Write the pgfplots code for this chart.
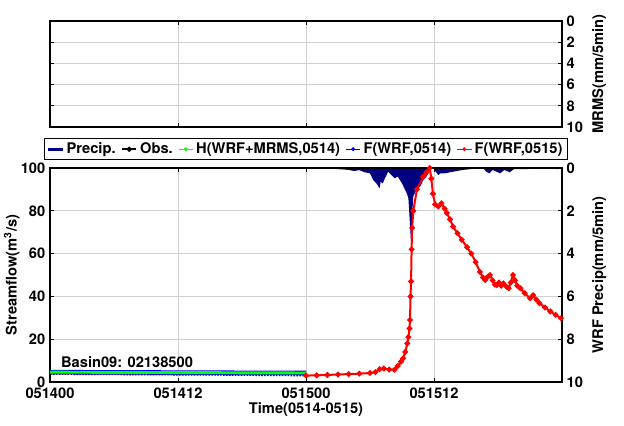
\documentclass[border=0pt]{standalone}
\usepackage{pgfplots}
\pgfplotsset{compat=1.18}
\usepackage{fontspec}
\setmainfont{TeX Gyre Heros}
\definecolor{navyp}{RGB}{0,0,128}
\pgfplotsset{
 mystyle/.style={
  scale only axis, width=384pt, xmin=0, xmax=48,
  tick align=inside, major tick length=3pt,
  every tick/.style={black, line width=0.6pt},
  axis line style={line width=0.8pt},
  tick label style={font=\fontsize{11}{13}\selectfont\bfseries},
  label style={font=\fontsize{11}{13}\selectfont\bfseries},
  /pgf/number format/assume math mode=true,
  grid style={black!18, line width=0.5pt},
 }
}
\pgfplotstableread{
h p
26.0 0
26.5 0.04
27.0 0.05
28.0 0.09
28.5 0.14
29.0 0.10
29.5 0.20
30.0 0.25
30.3 0.56
30.6 0.72
30.9 0.95
31.0 0.64
31.2 0.72
31.4 0.48
31.7 0.17
32.0 0.33
32.3 0.48
32.6 0.40
33.0 0.72
33.3 1.03
33.45 1.18
33.6 1.42
33.75 2.66
33.84 3.44
33.96 2.20
34.05 1.34
34.4 0.95
34.7 0.87
35.0 0.56
35.3 0.40
35.6 0.09
35.9 0
36.4 0.33
36.6 0.25
37.0 0.25
37.5 0.20
38.7 0.09
39.5 0.05
40.6 0.0
40.9 0.17
41.2 0.25
41.5 0.09
42.2 0.25
42.6 0.09
43.1 0.20
43.5 0.05
44.7 0.05
46.0 0.02
47.6 0.05
48.0 0
}\precip
\pgfplotstableread{
h v
24.0 3.0
25.0 3.1
26.0 3.3
27.0 3.5
28.0 3.7
29.0 3.9
30.0 4.2
30.5 4.6
30.9 6.0
31.3 6.3
31.8 5.8
32.3 5.7
32.6 7.5
32.9 9.5
33.1 11
33.3 14
33.5 18
33.6 21
33.7 25
33.75 29
33.8 40
33.85 47
33.9 62
33.95 72
34.06 80
34.4 90
35.0 96
35.3 98
35.6 100
35.75 95
35.9 88
36.1 83
36.4 82
36.7 83.5
37.0 81
37.2 79
37.5 76
37.8 72.6
38.2 69.5
38.6 66.5
39.1 63
39.5 60
39.9 56
40.3 51.5
40.6 48.8
40.8 47.7
41.0 49
41.25 50
41.5 47.5
41.7 45.5
41.9 45.3
42.1 46.5
42.3 45
42.5 46.1
42.8 44.5
43.0 43.8
43.2 46.5
43.4 50
43.6 47.5
43.8 45
44.1 43.8
44.5 41.5
45.0 39.1
45.3 40.6
45.6 38.5
45.9 36.8
46.4 34.8
46.9 33
47.4 31.4
47.9 29.8
}\fwrfb
\pgfplotstableread{
h v
0 4.60
1 4.58
2 4.57
3 4.55
4 4.54
5 4.52
6 4.50
7 4.49
8 4.47
9 4.45
10 4.44
11 4.42
12 4.40
13 4.39
14 4.37
15 4.35
16 4.34
17 4.32
18 4.30
19 4.29
20 4.27
21 4.25
22 4.24
23 4.22
24 4.20
}\hwrf
\pgfplotstableread{
h v
0 3.70
2 3.65
4 3.60
6 3.55
8 3.50
10 3.45
12 3.40
14 3.35
16 3.30
18 3.22
20 3.15
22 3.08
24 3.00
}\obs
\begin{document}
\begin{tikzpicture}
\path[use as bounding box] (0,0) rectangle (468pt,318.75pt);
% top MRMS axis
\begin{axis}[mystyle, height=79.5pt, at={(37.5pt,223.5pt)}, anchor=south west,
  ymin=0, ymax=10, y dir=reverse, ytick={0,2,...,10}, yticklabel pos=right,
  xtick={0,12,24,36,48}, xticklabels={}, grid=major,
  ylabel={MRMS(mm/5min)}]
\addplot[draw=none, forget plot] coordinates {(0,0)};
\end{axis}
% precip axis (right)
\begin{axis}[mystyle, height=160.5pt, at={(37.5pt,32.25pt)}, anchor=south west,
  ymin=0, ymax=10, y dir=reverse, ytick={0,2,...,10}, yticklabel pos=right,
  xtick={0,12,24,36,48}, xticklabels={}, grid=major,
  ylabel={WRF Precip(mm/5min)}]
\addplot[fill=navyp, draw=none] table[x=h, y=p] {\precip} \closedcycle;
\end{axis}
% streamflow axis (left)
\begin{axis}[mystyle, height=160.5pt, at={(37.5pt,32.25pt)}, anchor=south west,
  ymin=0, ymax=100, ytick={0,20,...,100}, yticklabel pos=left,
  xtick={0,12,24,36}, xticklabels={051400,051412,051500,051512},
  xticklabel style={yshift=-1pt},
  ylabel={Streamflow(m\textsuperscript{3}/s)}, xlabel={Time(0514-0515)},
  ylabel shift=-6pt, xlabel shift=-4pt,
  legend columns=5,
  legend style={at={(0.5,1)}, anchor=south, yshift=6pt,
    font=\fontsize{11}{13}\selectfont\bfseries, draw=black, line width=0.5pt,
    inner xsep=2pt, inner ysep=1pt,
    /tikz/every even column/.append style={column sep=2pt}},
  legend image code/.code={\draw[mark repeat=2,mark phase=2] plot coordinates {(0cm,0cm) (0.19cm,0cm) (0.38cm,0cm)};}]
\addlegendimage{navyp, line width=2pt}
\addlegendentry{Precip.}
\addlegendimage{black, line width=1.6pt, mark=*, mark size=1pt}
\addlegendentry{Obs.}
\addlegendimage{green, line width=0.8pt, mark=*, mark size=1pt}
\addlegendentry{H(WRF+MRMS,0514)}
\addlegendimage{blue, line width=0.8pt, mark=*, mark size=1pt}
\addlegendentry{F(WRF,0514)}
\addlegendimage{red, line width=0.8pt, mark=*, mark size=1pt}
\addlegendentry{F(WRF,0515)}
\addplot[black, line width=1.2pt, densely dotted, forget plot] table[x=h,y=v] {\obs};
\addplot[blue, line width=3.4pt, forget plot] table[x=h,y=v] {\hwrf};
\addplot[green, line width=2.2pt, forget plot] table[x=h,y=v] {\hwrf};
\addplot[red, line width=1.5pt, mark=*, mark size=1.3pt, forget plot] table[x=h,y=v] {\fwrfb};
\node[anchor=west, font=\fontsize{11}{13}\selectfont\bfseries] at (axis cs:0.6,9.2) {Basin09: 02138500};
\end{axis}
\end{tikzpicture}
\end{document}
